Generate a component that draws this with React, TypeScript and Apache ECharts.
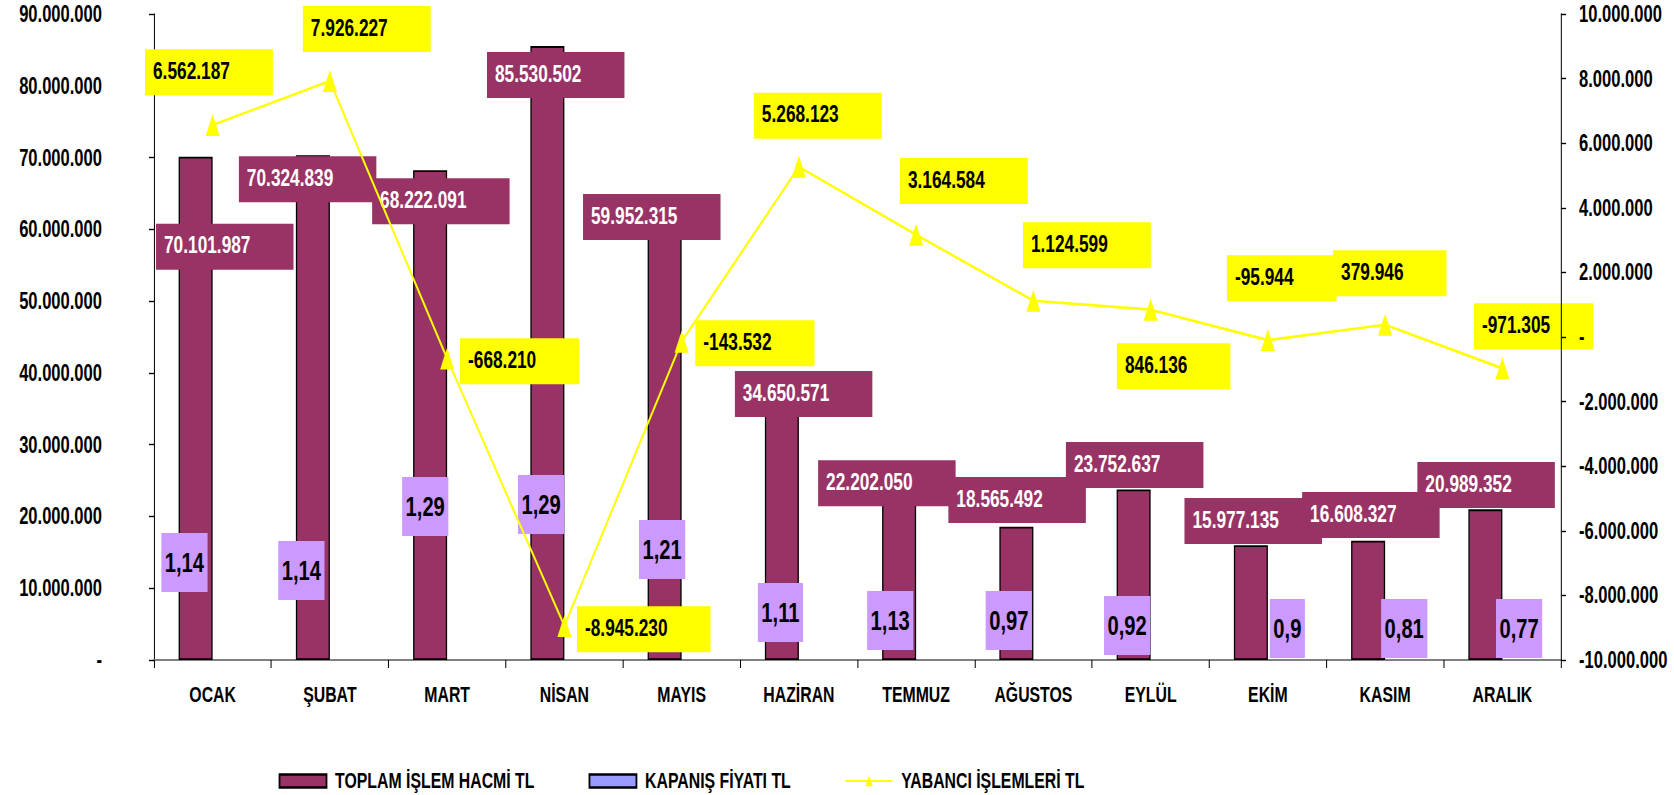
import React, { useEffect, useRef } from "react";
import * as echarts from "echarts";

// ---------- DATA ----------
const months = ["OCAK", "ŞUBAT", "MART", "NİSAN", "MAYIS", "HAZİRAN", "TEMMUZ", "AĞUSTOS", "EYLÜL", "EKİM", "KASIM", "ARALIK"];
const volumeTL = [70101987, 70324839, 68222091, 85530502, 59952315, 34650571, 22202050, 18565492, 23752637, 15977135, 16608327, 20989352];
const closingPriceTL = [1.14, 1.14, 1.29, 1.29, 1.21, 1.11, 1.13, 0.97, 0.92, 0.9, 0.81, 0.77];
const foreignTL = [6562187, 7926227, -668210, -8945230, -143532, 5268123, 3164584, 1124599, 846136, -95944, 379946, -971305];
const seriesNames = ["TOPLAM İŞLEM HACMİ TL", "KAPANIŞ FİYATI TL", "YABANCI İŞLEMLERİ TL"];
const leftAxisRange = [0, 90000000, 10000000];
const rightAxisRange = [-10000000, 10000000, 2000000];

// ---------- STYLE (label placement offsets, page px) ----------
const volumeLabelOffsets = [[-39.6, 67], [-74, 1], [-58, 8], [-60.4, 6], [-81.6, -35.7], [-47, -40.3], [-81, -40.3], [-68, -49.7], [-67.7, -47.5], [-66.4, -47.3], [-66, -48.8], [-68, -47.3]];
const priceLabelOffsets = [[-68.3, -127], [-68.6, -119], [-62, -183], [-63.4, -185], [-59.6, -140], [-58, -77], [-66, -69], [-64.7, -69], [-63.6, -64], [-15, -61], [-21, -61], [-23.4, -61]];
const foreignLabelOffsets = [[-67.6, -75.7], [-27, -75], [12.9, -20.3], [12.6, -19.6], [13.7, -21.3], [-45, -74], [-16.2, -76.8], [-10.4, -78.4], [-33.7, 33.6], [-40.9, -84.8], [-52, -74.5], [-28.4, -65.1]];

const SX = 0.72; // horizontal squeeze of the original picture
const PAGE_W = 1674;
const H = 795;
const W = PAGE_W / SX;
const FONT = "'Liberation Sans', Arial, sans-serif";
const MAROON = "#993366";
const LAVENDER = "#CC99FF";
const PERIWINKLE = "#9999FF";
const YELLOW = "#FFFF00";

const fmtInt = (v: number) => {
  if (v === 0) return "-";
  const s = Math.abs(Math.round(v)).toString().replace(/\B(?=(\d{3})+(?!\d))/g, ".");
  return (v < 0 ? "-" : "") + s;
};
const fmtDec = (v: number) => String(v).replace(".", ",");

const boxLabel = {
  show: true,
  align: "left",
  verticalAlign: "top",
  fontFamily: FONT,
  fontWeight: "bold",
  fontSize: 24,
  lineHeight: 36,
};

export default function App() {
  const ref = useRef<HTMLDivElement>(null);
  useEffect(() => {
    document.body.style.overflow = "hidden";
    const chart = echarts.init(ref.current!, null, { renderer: "svg", width: W, height: H });
    const option: any = {
      animation: false,
      backgroundColor: "#ffffff",
      grid: { left: 154 / SX, right: (PAGE_W - 1561) / SX, top: 14, bottom: H - 660, containLabel: false },
      legend: {
        left: 275 / SX,
        top: 764,
        itemWidth: 47 / SX,
        itemHeight: 13,
        itemGap: 54 / SX,
        textStyle: { fontSize: 22, fontWeight: "bold", color: "#000", fontFamily: FONT, lineHeight: 24, padding: [0, 0, 0, 5 / SX] },
        data: [
          { name: seriesNames[0], icon: "rect", itemStyle: { color: MAROON, borderColor: "#000", borderWidth: 2.5 } },
          { name: seriesNames[1], icon: "rect", itemStyle: { color: PERIWINKLE, borderColor: "#000", borderWidth: 2.5 } },
          { name: seriesNames[2] },
        ],
      },
      xAxis: {
        type: "category",
        data: months,
        axisLine: { onZero: false, lineStyle: { color: "#808080", width: 2 } },
        axisTick: { show: true, length: 8, lineStyle: { color: "#000", width: 1.4 } },
        axisLabel: { interval: 0, margin: 24, fontSize: 22, fontWeight: "bold", color: "#000", fontFamily: FONT },
        splitLine: { show: false },
      },
      yAxis: [
        {
          type: "value",
          position: "left",
          min: leftAxisRange[0],
          max: leftAxisRange[1],
          interval: leftAxisRange[2],
          axisLine: { show: true, lineStyle: { color: "#000", width: 1.4 } },
          axisTick: { show: true, length: 7, lineStyle: { color: "#000", width: 1.4 } },
          splitLine: { show: false },
          axisLabel: { formatter: (v: number) => fmtInt(v), margin: 52 / SX, fontSize: 23, fontWeight: "bold", color: "#000", fontFamily: FONT },
        },
        {
          type: "value",
          position: "right",
          z: 10,
          min: rightAxisRange[0],
          max: rightAxisRange[1],
          interval: rightAxisRange[2],
          axisLine: { show: true, lineStyle: { color: "#000", width: 1.4 } },
          axisTick: { show: true, length: 7, lineStyle: { color: "#000", width: 1.4 } },
          splitLine: { show: false },
          axisLabel: { formatter: (v: number) => fmtInt(v), margin: 18 / SX, fontSize: 23, fontWeight: "bold", color: "#000", fontFamily: FONT },
        },
      ],
      series: [
        {
          name: seriesNames[0],
          type: "bar",
          barWidth: 34 / SX,
          barGap: "0%",
          itemStyle: { color: MAROON, borderColor: "#000", borderWidth: 1.8 },
          label: {
            ...boxLabel,
            position: "top",
            distance: 0,
            color: "#fff",
            backgroundColor: MAROON,
            padding: [3, 43 / SX, 7, 8 / SX],
            formatter: (p: any) => fmtInt(p.value),
          },
          data: volumeTL.map((v, i) => ({ value: v, label: { offset: [volumeLabelOffsets[i][0] / SX, volumeLabelOffsets[i][1]] } })),
        },
        {
          name: seriesNames[1],
          type: "bar",
          barWidth: 34 / SX,
          barGap: "0%",
          itemStyle: { color: PERIWINKLE },
          label: {
            ...boxLabel,
            position: "top",
            distance: 0,
            color: "#000",
            backgroundColor: LAVENDER,
            fontSize: 28,
            lineHeight: 40,
            padding: [9, 3.5 / SX, 10, 3.5 / SX],
            formatter: (p: any) => fmtDec(p.value),
          },
          data: closingPriceTL.map((v, i) => ({ value: v, label: { offset: [priceLabelOffsets[i][0] / SX, priceLabelOffsets[i][1]] } })),
        },
        {
          name: seriesNames[2],
          type: "line",
          yAxisIndex: 1,
          symbol: "triangle",
          symbolSize: [14 / SX, 22],
          lineStyle: { color: YELLOW, width: 2.6 },
          itemStyle: { color: YELLOW },
          label: {
            ...boxLabel,
            position: "inside",
            color: "#000",
            backgroundColor: YELLOW,
            padding: [3, 43 / SX, 7, 8 / SX],
            formatter: (p: any) => fmtInt(p.value),
          },
          data: foreignTL.map((v, i) => ({ value: v, label: { offset: [foreignLabelOffsets[i][0] / SX, foreignLabelOffsets[i][1]] } })),
        },
      ],
    };
    chart.setOption(option);
    return () => chart.dispose();
  }, []);
  return (
    <div
      ref={ref}
      style={{ position: "absolute", left: 0, top: 0, width: W, height: H, transform: `scaleX(${SX})`, transformOrigin: "0 0" }}
    />
  );
}
